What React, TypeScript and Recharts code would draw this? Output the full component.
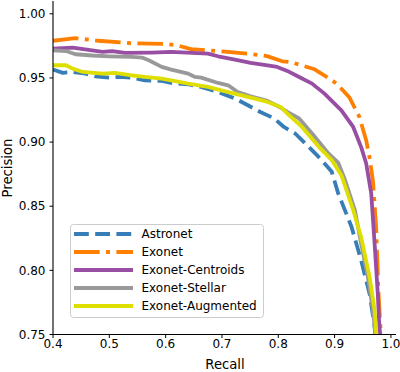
import React from "react";
import { LineChart, Line, XAxis, YAxis } from "recharts";

const seriesNames = ["Astronet", "Exonet", "Exonet-Centroids", "Exonet-Stellar", "Exonet-Augmented"];
const seriesColors = ["#377eb8", "#ff7f00", "#984ea3", "#999999", "#dede00"];
const seriesDashes = ["14.8 6.4", "25.6 6.4 4 6.4", undefined, undefined, undefined];

const xTicks = [0.4, 0.5, 0.6, 0.7, 0.8, 0.9, 1.0];
const yTicks = [0.75, 0.8, 0.85, 0.9, 0.95, 1.0];

const astronetRecall = [0.40, 0.4175, 0.435, 0.458, 0.475, 0.50, 0.5175, 0.54, 0.563, 0.593, 0.61, 0.64, 0.663, 0.693, 0.723, 0.746, 0.768, 0.793, 0.81, 0.83, 0.854, 0.877, 0.895, 0.9064, 0.93, 0.947, 0.962, 0.971, 0.9725];
const astronetPrecision = [0.9565, 0.954, 0.9547, 0.9534, 0.9513, 0.9503, 0.9508, 0.9503, 0.9482, 0.9477, 0.9461, 0.9451, 0.943, 0.9391, 0.934, 0.9287, 0.9235, 0.9184, 0.9118, 0.9067, 0.8963, 0.886, 0.8768, 0.86, 0.834, 0.808, 0.782, 0.756, 0.75];

const exonetRecall = [0.40, 0.44, 0.48, 0.54, 0.60, 0.62, 0.645, 0.675, 0.705, 0.746, 0.78, 0.807, 0.821, 0.863, 0.891, 0.9035, 0.926, 0.944, 0.956, 0.962, 0.968, 0.9737, 0.978, 0.982];
const exonetPrecision = [0.979, 0.981, 0.979, 0.977, 0.9765, 0.9755, 0.9725, 0.9716, 0.9705, 0.969, 0.967, 0.963, 0.9625, 0.957, 0.9495, 0.9456, 0.935, 0.9196, 0.9015, 0.888, 0.87, 0.834, 0.782, 0.75];

const centroidsRecall = [0.40, 0.435, 0.46, 0.488, 0.505, 0.528, 0.575, 0.61, 0.675, 0.693, 0.723, 0.751, 0.781, 0.798, 0.816, 0.837, 0.86, 0.882, 0.912, 0.933, 0.947, 0.956, 0.965, 0.971, 0.9766, 0.9795, 0.981];
const centroidsPrecision = [0.9729, 0.9736, 0.972, 0.9703, 0.971, 0.9695, 0.9698, 0.9703, 0.969, 0.9669, 0.9643, 0.9617, 0.9599, 0.9586, 0.9555, 0.9508, 0.9456, 0.9378, 0.9248, 0.9118, 0.8963, 0.8835, 0.86, 0.821, 0.782, 0.756, 0.75];

const stellarRecall = [0.40, 0.423, 0.44, 0.47, 0.50, 0.54, 0.558, 0.57, 0.593, 0.61, 0.64, 0.652, 0.663, 0.693, 0.711, 0.728, 0.751, 0.781, 0.804, 0.816, 0.837, 0.86, 0.889, 0.9064, 0.918, 0.936, 0.947, 0.959, 0.968, 0.9725];
const stellarPrecision = [0.9716, 0.971, 0.9685, 0.9675, 0.9669, 0.9664, 0.9659, 0.9638, 0.9586, 0.9565, 0.9534, 0.9508, 0.9503, 0.9461, 0.9443, 0.9391, 0.9357, 0.9321, 0.927, 0.9235, 0.9184, 0.9067, 0.8911, 0.884, 0.871, 0.847, 0.821, 0.795, 0.769, 0.75];

const augmentedRecall = [0.40, 0.423, 0.435, 0.453, 0.488, 0.51, 0.54, 0.563, 0.593, 0.61, 0.64, 0.675, 0.711, 0.746, 0.781, 0.804, 0.819, 0.842, 0.872, 0.895, 0.912, 0.933, 0.947, 0.962, 0.971, 0.974];
const augmentedPrecision = [0.9599, 0.9599, 0.9573, 0.9547, 0.9534, 0.954, 0.9521, 0.9508, 0.9495, 0.9482, 0.9456, 0.943, 0.939, 0.9352, 0.9313, 0.9274, 0.921, 0.9118, 0.8963, 0.886, 0.8742, 0.847, 0.826, 0.795, 0.769, 0.75];

const recalls = [astronetRecall, exonetRecall, centroidsRecall, stellarRecall, augmentedRecall];
const precisions = [astronetPrecision, exonetPrecision, centroidsPrecision, stellarPrecision, augmentedPrecision];

const seriesData = recalls.map((rs, i) => rs.map((r, j) => ({ recall: r, precision: precisions[i][j] })));

const FONT = "'DejaVu Sans', sans-serif";

export default function App() {
  const W = 400;
  const H = 372;
  return (
    <div style={{ position: "absolute", left: 0, top: 0, width: W, height: H, background: "#fff", fontFamily: FONT }}>
      <LineChart width={W} height={H} margin={{ top: 1, right: 4, bottom: 0, left: 0 }}>
        <XAxis
          xAxisId={0}
          dataKey="recall"
          type="number"
          domain={[0.4, 1.009]}
          ticks={xTicks}
          allowDataOverflow
          height={37.5}
          tickSize={3.5}
          tickMargin={1.5}
          tickFormatter={(v: number) => v.toFixed(1)}
          tick={{ fill: "#000", fontSize: 12, fontFamily: FONT }}
          axisLine={{ stroke: "#000", strokeWidth: 1.1 }}
          tickLine={{ stroke: "#000", strokeWidth: 1 }}
        />
        <XAxis xAxisId="top" orientation="top" type="number" domain={[0.4, 1.009]} height={0} tick={false} tickLine={false} axisLine={{ stroke: "#000", strokeWidth: 1.1 }} />
        <YAxis
          yAxisId={0}
          type="number"
          domain={[0.75, 1.01]}
          ticks={yTicks}
          allowDataOverflow
          width={53}
          tickSize={3.5}
          tickMargin={4}
          tickFormatter={(v: number) => v.toFixed(2)}
          tick={{ fill: "#000", fontSize: 12, fontFamily: FONT }}
          axisLine={{ stroke: "#000", strokeWidth: 1.1 }}
          tickLine={{ stroke: "#000", strokeWidth: 1 }}
        />
        <YAxis yAxisId="right" orientation="right" type="number" domain={[0.75, 1.01]} width={0} tick={false} tickLine={false} axisLine={{ stroke: "#000", strokeWidth: 1.1 }} />
        {seriesData.map((d, i) => (
          <Line
            key={seriesNames[i]}
            xAxisId={0}
            yAxisId={0}
            data={d}
            dataKey="precision"
            name={seriesNames[i]}
            type="linear"
            stroke={seriesColors[i]}
            strokeWidth={3.8}
            strokeDasharray={seriesDashes[i]}
            strokeLinejoin="round"
            dot={false}
            activeDot={false}
            isAnimationActive={false}
          />
        ))}
      </LineChart>
      <svg width={W} height={H} style={{ position: "absolute", left: 0, top: 0, pointerEvents: "none" }}>
        <text x={225} y={369} textAnchor="middle" fontSize={13.2} fontFamily={FONT} fill="#000">Recall</text>
        <text x={0} y={0} transform="translate(12,168) rotate(-90)" textAnchor="middle" fontSize={13.2} fontFamily={FONT} fill="#000">Precision</text>
        <rect x={70.5} y={224.5} width={193} height={93} rx={3} ry={3} fill="rgba(255,255,255,0.8)" stroke="#cccccc" strokeWidth={1} />
        {seriesNames.map((n, i) => (
          <g key={n}>
            <line x1={74} x2={133} y1={234 + i * 18} y2={234 + i * 18} stroke={seriesColors[i]} strokeWidth={3.8} strokeDasharray={seriesDashes[i]} />
            <text x={141.5} y={238.3 + i * 18} fontSize={12} fontFamily={FONT} fill="#000">{n}</text>
          </g>
        ))}
      </svg>
    </div>
  );
}
